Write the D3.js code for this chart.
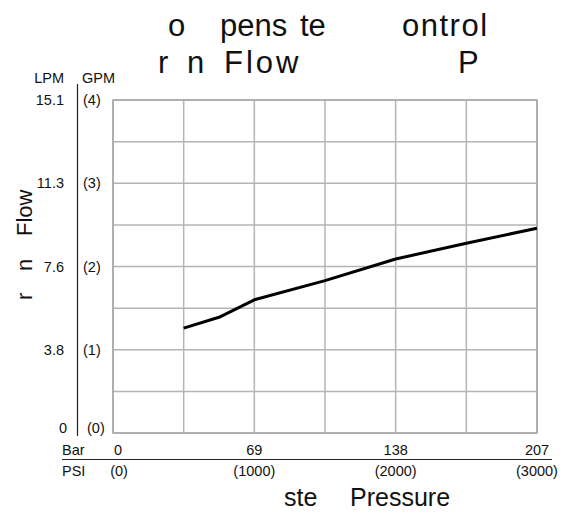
<!DOCTYPE html>
<html>
<head>
<meta charset="utf-8">
<script src="https://cdn.jsdelivr.net/npm/d3@7"></script>
<style>
  body { margin: 0; background: #fff; }
  svg { display: block; font-family: "Liberation Sans", Arial, sans-serif; }
  .tick-label { font-size: 14.5px; fill: #111; }
  .title { font-size: 31px; fill: #111; }
  .axis-title { font-size: 25px; fill: #111; }
  .y-title { font-size: 22px; fill: #111; }
</style>
</head>
<body>
<svg id="chart"></svg>
<script>
// DATA
const psiPoints = [500, 750, 1000, 1500, 2000, 2500, 3000];
const gpmValues = [1.26, 1.39, 1.60, 1.83, 2.09, 2.28, 2.46];

const psiTicks = [0, 1000, 2000, 3000];
const barLabels = ["0", "69", "138", "207"];
const psiLabels = ["(0)", "(1000)", "(2000)", "(3000)"];

const gpmTicks = [0, 1, 2, 3, 4];
const lpmLabels = ["0", "3.8", "7.6", "11.3", "15.1"];
const gpmLabels = ["(0)", "(1)", "(2)", "(3)", "(4)"];

// visible title fragments (the glyphs that render)
const titleLine1 = ["o", "pens", "te", "ontrol"];
const titleLine2 = ["r", "n", "Flow", "P"];
const yTitleParts = ["r", "n", "Flow"];
const xTitleParts = ["ste", "Pressure"];

// SET VARIABLES
const _w = 568, _h = 514;
const _plot = {left: 113, right: 537, top: 100, bottom: 433};

const svg = d3.select("#chart").attr("width", _w).attr("height", _h);

const x = d3.scaleLinear().domain([0, 3000]).range([_plot.left, _plot.right]);
const y = d3.scaleLinear().domain([0, 4]).range([_plot.bottom, _plot.top]);

// GRID
const grid = svg.append("g").attr("stroke", "#b4b4b4").attr("stroke-width", 1.5);
grid.selectAll("line.v")
    .data(d3.range(0, 3001, 500))
    .enter().append("line")
      .attr("x1", d => x(d)).attr("x2", d => x(d))
      .attr("y1", y(0)).attr("y2", y(4));
grid.selectAll("line.h")
    .data(d3.range(0, 4.01, 0.5))
    .enter().append("line")
      .attr("y1", d => y(d)).attr("y2", d => y(d))
      .attr("x1", x(0)).attr("x2", x(3000));
svg.append("rect")
    .attr("x", x(0)).attr("y", y(4))
    .attr("width", x(3000) - x(0)).attr("height", y(0) - y(4))
    .attr("fill", "none").attr("stroke", "#a8a8a8").attr("stroke-width", 1.5);

// CURVE
const line = d3.line().x(d => x(d[0])).y(d => y(d[1]));
svg.append("path")
    .datum(psiPoints.map((p, i) => [p, gpmValues[i]]))
    .attr("d", line)
    .attr("fill", "none")
    .attr("stroke", "#000")
    .attr("stroke-width", 3)
    .attr("stroke-linejoin", "round");

// LEFT AXIS (LPM / GPM)
svg.append("line")
    .attr("x1", 77.5).attr("x2", 77.5)
    .attr("y1", 84).attr("y2", 436)
    .attr("stroke", "#222").attr("stroke-width", 1.2);
svg.append("text").attr("class", "tick-label")
    .attr("x", 64).attr("y", 83).attr("text-anchor", "end").text("LPM");
svg.append("text").attr("class", "tick-label")
    .attr("x", 82).attr("y", 83).text("GPM");
svg.selectAll("text.lpm")
    .data(gpmTicks)
    .enter().append("text")
      .attr("class", "tick-label lpm")
      .attr("text-anchor", "end")
      .attr("x", (d, i) => i == 0 ? 67 : 64)
      .attr("y", d => y(d) + (d == 0 ? 0 : 5))
      .text((d, i) => lpmLabels[i]);
svg.selectAll("text.gpm")
    .data(gpmTicks)
    .enter().append("text")
      .attr("class", "tick-label gpm")
      .attr("x", (d, i) => i == 0 ? 87 : 83)
      .attr("y", d => y(d) + (d == 0 ? 0 : 5))
      .text((d, i) => gpmLabels[i]);

// BOTTOM AXIS (Bar / PSI)
svg.append("line")
    .attr("x1", 62).attr("x2", 552)
    .attr("y1", 459.5).attr("y2", 459.5)
    .attr("stroke", "#222").attr("stroke-width", 1.2);
svg.append("text").attr("class", "tick-label").attr("x", 62).attr("y", 455).text("Bar");
svg.append("text").attr("class", "tick-label").attr("x", 62).attr("y", 476).text("PSI");
svg.selectAll("text.bar")
    .data(psiTicks)
    .enter().append("text")
      .attr("class", "tick-label bar")
      .attr("text-anchor", "middle")
      .attr("x", d => x(d) + (d == 0 ? 5 : 0))
      .attr("y", 455)
      .text((d, i) => barLabels[i]);
svg.selectAll("text.psi")
    .data(psiTicks)
    .enter().append("text")
      .attr("class", "tick-label psi")
      .attr("text-anchor", "middle")
      .attr("x", d => x(d) + (d == 0 ? 6 : 0))
      .attr("y", 476)
      .text((d, i) => psiLabels[i]);

// TITLES
const t1x = [168, 220, 300, 402];
const t2x = [158, 187, 224, 458];
svg.selectAll("text.t1")
    .data(titleLine1)
    .enter().append("text")
      .attr("class", "title t1")
      .attr("x", (d, i) => t1x[i]).attr("y", 36)
      .attr("letter-spacing", (d, i) => i == 3 ? 1.5 : 0)
      .text(d => d);
svg.selectAll("text.t2")
    .data(titleLine2)
    .enter().append("text")
      .attr("class", "title t2")
      .attr("x", (d, i) => t2x[i]).attr("y", 73)
      .attr("letter-spacing", (d, i) => i == 2 ? 3 : 0)
      .text(d => d);

const yTy = [300, 271, 236];
svg.selectAll("text.yt")
    .data(yTitleParts)
    .enter().append("text")
      .attr("class", "y-title yt")
      .attr("transform", (d, i) => `translate(32, ${yTy[i]}) rotate(-90)`)
      .text(d => d);

const xTx = [284, 350];
svg.selectAll("text.xt")
    .data(xTitleParts)
    .enter().append("text")
      .attr("class", "axis-title xt")
      .attr("x", (d, i) => xTx[i]).attr("y", 506)
      .text(d => d);
</script>
</body>
</html>
